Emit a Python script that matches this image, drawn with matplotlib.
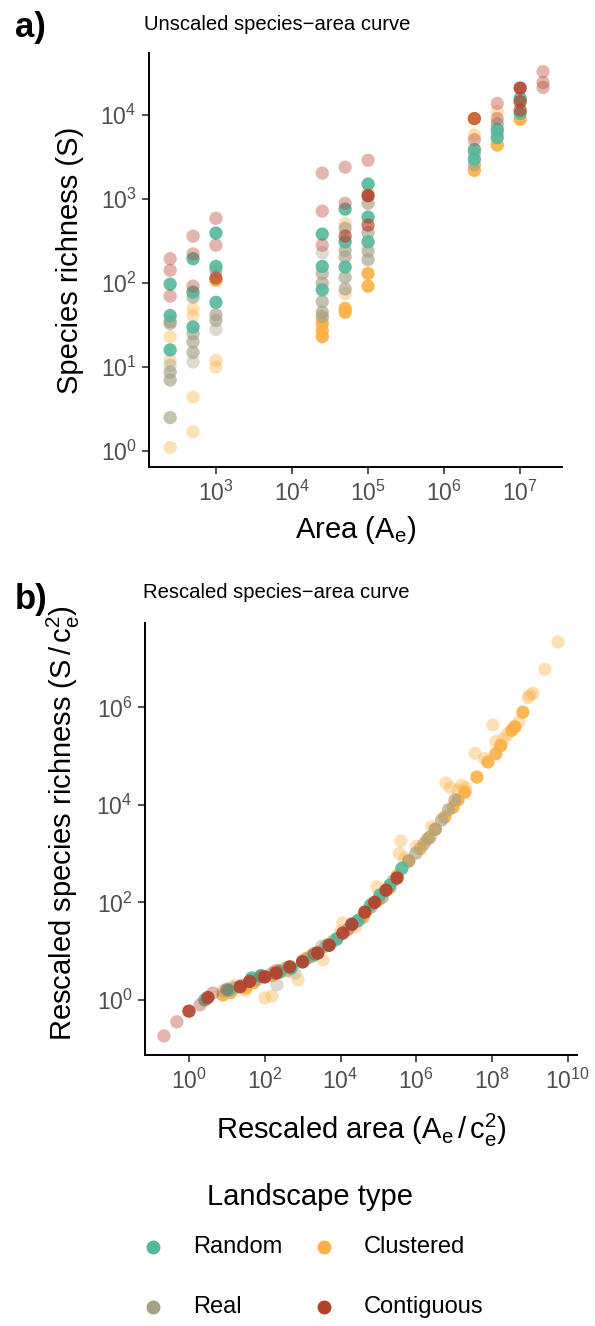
import numpy as np
import matplotlib
matplotlib.use("Agg")
import matplotlib.pyplot as plt
from matplotlib.ticker import FixedLocator, LogFormatterMathtext, NullLocator
from matplotlib.lines import Line2D

plt.rcParams['font.family'] = ['Liberation Sans', 'DejaVu Sans']
plt.rcParams['mathtext.fontset'] = 'custom'
plt.rcParams['mathtext.rm'] = 'Liberation Sans'
plt.rcParams['mathtext.it'] = 'Liberation Sans:italic'

# ---------------- data ----------------
types = ["Random", "Clustered", "Real", "Contiguous"]
colors = {"Random": "#55B79C", "Clustered": "#FDB043", "Real": "#A6A184", "Contiguous": "#B3402B"}
alpha_levels = {0: 0.38, 1: 0.65, 2: 0.9}

a_xticks = [1e3, 1e4, 1e5, 1e6, 1e7]
a_yticks = [1e0, 1e1, 1e2, 1e3, 1e4]
b_xticks = [1e0, 1e2, 1e4, 1e6, 1e8, 1e10]
b_yticks = [1e0, 1e2, 1e4, 1e6]

# Panel a: area, species richness, alpha level
a_area_random = [250, 250, 250, 500, 500, 500, 1000, 1000, 1000, 25000, 25000, 25000,
                 50000, 50000, 50000, 1e5, 1e5, 1e5, 2.5e6, 2.5e6, 5e6, 5e6, 1e7, 1e7]
a_S_random = [97, 41, 16, 195, 78, 30, 395, 158, 59, 383, 158, 83,
              760, 310, 155, 1510, 610, 310, 3900, 3000, 5400, 6800, 15800, 10500]
a_lvl_random = [2] * 24

a_area_clustered = [250, 250, 250, 500, 500, 500, 500, 1000, 1000, 1000,
                    25000, 25000, 25000, 25000, 50000, 50000, 50000, 50000,
                    1e5, 1e5, 1e5, 2.5e6, 2.5e6, 2.5e6, 5e6, 5e6, 1e7]
a_S_clustered = [23, 12, 1.1, 49, 41, 4.4, 1.7, 108, 12, 10,
                 23, 27, 33, 38, 50, 45, 75, 510,
                 92, 130, 1200, 2200, 9100, 5800, 4400, 11000, 8900]
a_lvl_clustered = [0, 0, 0, 0, 0, 0, 0, 2, 0, 0,
                   2, 2, 2, 0, 2, 2, 0, 0,
                   2, 2, 0, 2, 2, 0, 2, 0, 2]

a_area_real = [250, 250, 250, 250, 250, 250, 500, 500, 500, 500, 500,
               1000, 1000, 1000, 1000, 25000, 25000, 25000, 25000, 25000, 25000,
               50000, 50000, 50000, 50000, 50000, 1e5, 1e5, 1e5, 1e5,
               2.5e6, 2.5e6, 5e6, 5e6, 1e7]
a_S_real = [35, 33, 10.5, 8.7, 7, 2.5, 68, 25, 20, 15, 11.5,
            140, 42, 36, 28, 230, 130, 100, 60, 45, 40,
            450, 245, 205, 117, 85, 890, 400, 240, 190,
            3550, 2570, 7900, 6200, 14500]
a_lvl_real = [1, 1, 0, 1, 1, 1, 1, 1, 1, 1, 0,
              1, 1, 1, 0, 0, 1, 1, 1, 1, 1,
              1, 1, 1, 1, 1, 1, 1, 1, 1,
              1, 1, 1, 1, 1]

a_area_contig = [250, 250, 250, 500, 500, 500, 1000, 1000, 1000,
                 25000, 25000, 25000, 50000, 50000, 50000, 1e5, 1e5, 1e5,
                 2.5e6, 2.5e6, 5e6, 5e6, 1e7, 1e7, 1e7, 2e7, 2e7, 2e7]
a_S_contig = [195, 142, 70, 363, 222, 92, 590, 283, 115,
              2040, 720, 283, 2400, 890, 363, 2900, 1100, 490,
              9100, 5100, 13800, 9100, 21000, 11500, 14500, 33000, 24500, 21400]
a_lvl_contig = [0, 0, 0, 0, 0, 0, 0, 0, 1,
                0, 0, 0, 0, 0, 1, 0, 2, 1,
                1, 0, 0, 0, 2, 1, 1, 0, 0, 0]

# Panel b: log10 rescaled area, log10 rescaled richness, alpha level
b_logx_random = [0.42, 1.05, 1.66, 2.4, 3.0, 3.67, 4.3, 4.45, 5.04, 5.62,
                 1.9, 2.7, 3.3, 3.9, 4.8, 5.3]
b_logy_random = [0.0, 0.2, 0.45, 0.57, 0.78, 1.13, 1.55, 1.62, 2.15, 2.7,
                 0.5, 0.65, 0.92, 1.25, 1.95, 2.35]
b_lvl_random = [2] * 16

b_logx_clustered = [1.1, 1.5, 2.2, 3.8, 4.6, 5.3, 5.8, 6.1, 6.5, 6.97, 7.28, 7.6, 7.89,
                    8.23, 8.52, 8.81, 0.9, 1.7, 2.6, 3.1, 4.2, 5.0, 5.5, 6.3, 6.75, 7.1,
                    8.1, 8.6,
                    2.0, 2.19, 2.88, 3.54, 4.06, 4.96, 5.59, 5.55, 6.78, 7.1, 7.3, 7.55,
                    8.02, 8.1, 8.4, 9.08, 9.0, 9.39, 9.74, 3.3, 4.4, 1.5, 6.0,
                    4.0, 4.7, 5.7, 6.4, 7.2, 6.9, 7.8, 8.3, 8.7, 8.95, 2.5, 1.2]
b_logy_clustered = [0.15, 0.25, 0.5, 1.2, 1.7, 2.3, 2.85, 3.1, 3.5, 3.95, 4.26, 4.57, 4.88,
                    5.22, 5.53, 5.9, 0.1, 0.35, 0.6, 0.85, 1.45, 2.05, 2.55, 3.3, 3.75, 4.1,
                    5.05, 5.6,
                    0.04, 0.08, 0.41, 0.82, 1.58, 2.32, 3.26, 3.0, 4.45, 4.3, 4.35, 5.06,
                    5.64, 5.3, 5.45, 6.29, 6.25, 6.78, 7.34, 0.95, 1.5, 0.2, 3.15,
                    1.4, 1.85, 2.9, 3.55, 4.4, 4.35, 4.95, 5.35, 5.7, 6.2, 0.65, 0.3]
b_lvl_clustered = [2] * 28 + [0] * 35

b_logx_real = [1.0, 1.4, 2.0, 2.2, 2.6, 3.2, 3.6, 4.2, 4.8, 5.99, 6.2, 6.36, 6.67, 7.02,
               1.2, 1.8, 2.4, 3.0, 3.4, 3.9, 4.5, 5.1, 5.4, 5.8, 6.5, 6.85,
               2.32, 3.5, 0.9, 2.8]
b_logy_real = [0.2, 0.3, 0.48, 0.55, 0.66, 0.88, 1.1, 1.45, 1.9, 3.01, 3.2, 3.34, 3.69, 4.1,
               0.25, 0.42, 0.6, 0.8, 0.98, 1.25, 1.65, 2.1, 2.45, 2.85, 3.5, 3.9,
               0.31, 1.1, 0.18, 0.55]
b_lvl_real = [1] * 26 + [0] * 4

b_logx_contig = [-0.66, -0.32, 0.29, 0.63, 2.3, 1.0, 1.9, 3.3,
                 0.0, 1.35, 2.0, 2.66, 3.4, 4.06, 4.64, 4.9, 5.2, 5.49,
                 0.5, 1.6, 2.3, 3.0, 3.7, 4.3]
b_logy_contig = [-0.74, -0.45, -0.1, 0.14, 0.6, 0.22, 0.48, 0.95,
                 -0.23, 0.27, 0.47, 0.68, 0.96, 1.37, 1.8, 2.0, 2.25, 2.5,
                 0.05, 0.38, 0.55, 0.78, 1.12, 1.55]
b_lvl_contig = [0] * 8 + [2] * 16

panel_a = {
    "Clustered": (a_area_clustered, a_S_clustered, a_lvl_clustered),
    "Real": (a_area_real, a_S_real, a_lvl_real),
    "Random": (a_area_random, a_S_random, a_lvl_random),
    "Contiguous": (a_area_contig, a_S_contig, a_lvl_contig),
}
panel_b = {
    "Clustered": (b_logx_clustered, b_logy_clustered, b_lvl_clustered),
    "Real": (b_logx_real, b_logy_real, b_lvl_real),
    "Random": (b_logx_random, b_logy_random, b_lvl_random),
    "Contiguous": (b_logx_contig, b_logy_contig, b_lvl_contig),
}

# ---------------- figure ----------------
W, H = 595, 1326
fig = plt.figure(figsize=(W / 100, H / 100), dpi=100)

def box(l, t, r, b):
    return [l / W, 1 - b / H, (r - l) / W, (b - t) / H]

axA = fig.add_axes(box(149, 53, 562, 467))
axB = fig.add_axes(box(145, 623, 577, 1055))

ms = 92
tick_col = "#4D4D4D"
title_fs = 21
tick_fs = 16.5

def style(ax, xt, yt):
    for s in ["top", "right"]:
        ax.spines[s].set_visible(False)
    for s in ["left", "bottom"]:
        ax.spines[s].set_linewidth(1.4)
        ax.spines[s].set_color("black")
    ax.xaxis.set_major_locator(FixedLocator(xt))
    ax.yaxis.set_major_locator(FixedLocator(yt))
    ax.xaxis.set_minor_locator(NullLocator())
    ax.yaxis.set_minor_locator(NullLocator())
    ax.xaxis.set_major_formatter(LogFormatterMathtext())
    ax.yaxis.set_major_formatter(LogFormatterMathtext())
    ax.tick_params(axis="both", which="major", length=5, width=1.2, color="#333333",
                   labelsize=tick_fs, labelcolor=tick_col)
    ax.tick_params(axis="x", pad=5)
    ax.tick_params(axis="y", pad=4)

for t, (xs, ys, lv) in panel_a.items():
    rgba = [matplotlib.colors.to_rgba(colors[t], alpha_levels[l]) for l in lv]
    axA.scatter(xs, ys, s=ms, c=rgba, linewidths=0)
axA.set_xscale("log")
axA.set_yscale("log")
style(axA, a_xticks, a_yticks)
axA.set_xlim(10 ** 2.12, 10 ** 7.55)
axA.set_ylim(10 ** -0.19, 10 ** 4.74)
axA.set_xlabel(r"Area ($\mathregular{A_e}$)", fontsize=title_fs)
axA.set_ylabel("Species richness (S)", fontsize=title_fs)
axA.xaxis.set_label_coords(0.5, (467 - 530) / 414)
axA.xaxis.label.set_va("center")
axA.yaxis.set_label_coords((70 - 149) / 413, 0.5)
axA.yaxis.label.set_va("center")

for t, (xs, ys, lv) in panel_b.items():
    rgba = [matplotlib.colors.to_rgba(colors[t], alpha_levels[l]) for l in lv]
    axB.scatter(10 ** np.array(xs), 10 ** np.array(ys), s=ms, c=rgba, linewidths=0)
axB.set_xscale("log")
axB.set_yscale("log")
style(axB, b_xticks, b_yticks)
axB.set_xlim(10 ** -1.16, 10 ** 10.24)
axB.set_ylim(10 ** -1.13, 10 ** 7.73)
axB.set_xlabel(r"Rescaled area ($\mathregular{A_e\,/\,c_e^2}$)", fontsize=title_fs)
axB.set_ylabel(r"Rescaled species richness ($\mathregular{S\,/\,c_e^2}$)", fontsize=title_fs)
axB.xaxis.set_label_coords(0.5, (1055 - 1130) / 432)
axB.xaxis.label.set_va("center")
axB.yaxis.set_label_coords((63 - 145) / 432, (1055 - 823) / 432)
axB.yaxis.label.set_va("center")

# titles and panel tags
fig.text(144 / W, 1 - 25 / H, "Unscaled species\u2212area curve", fontsize=14.6, va="center", ha="left")
fig.text(143 / W, 1 - 593 / H, "Rescaled species\u2212area curve", fontsize=14.6, va="center", ha="left")
fig.text(15 / W, 1 - 27 / H, "a)", fontsize=25, fontweight="bold", va="center", ha="left")
fig.text(15 / W, 1 - 600 / H, "b)", fontsize=25, fontweight="bold", va="center", ha="left")

# legend
fig.text(310 / W, 1 - 1197 / H, "Landscape type", fontsize=title_fs, ha="center", va="center")
leg_pos = {"Random": (153, 1247), "Clustered": (324, 1247), "Real": (153, 1307), "Contiguous": (324, 1307)}
for t, (px, py) in leg_pos.items():
    fig.add_artist(Line2D([px / W], [1 - py / H], marker="o", markersize=9, color=colors[t],
                          linestyle="none", transform=fig.transFigure))
    fig.text((px + 40) / W, 1 - py / H, t, fontsize=17, ha="left", va="center")

fig.savefig("out.png", dpi=100)
